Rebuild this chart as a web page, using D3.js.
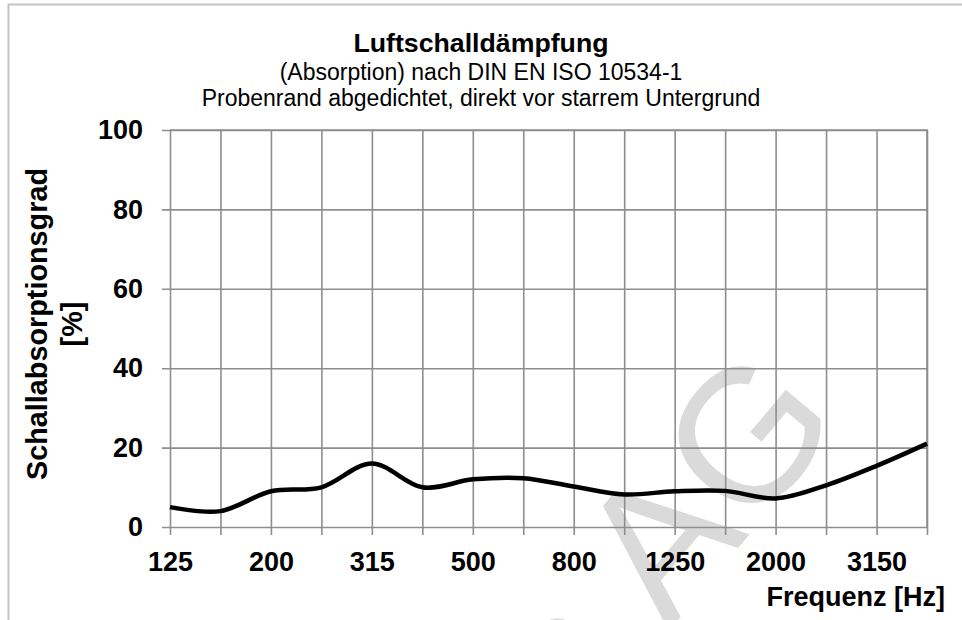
<!DOCTYPE html>
<html>
<head>
<meta charset="utf-8">
<script src="https://cdn.jsdelivr.net/npm/d3@7"></script>
<style>
	body { margin: 0; background: white; }
	text { font-family: "Liberation Sans", Arial, sans-serif; }
</style>
</head>
<body>
<div id="chart"></div>
<script>

// third-octave band centre frequencies (Hz)
const FREQUENCIES = ["125", "160", "200", "250", "315", "400", "500", "630",
	"800", "1000", "1250", "1600", "2000", "2500", "3150", "4000"];

// absorption coefficient in percent
const ABSORPTION = [5, 4, 9, 10, 16, 10, 12, 12.3, 10.2, 8.2, 9, 9.1, 7.2, 10.5, 15.4, 21];

// only every second band gets a label
const X_LABELS = ["125", "200", "315", "500", "800", "1250", "2000", "3150"];

const Y_TICKS = [0, 20, 40, 60, 80, 100];

const TITLE = "Luftschalldämpfung";
const SUBTITLE = ["(Absorption) nach DIN EN ISO 10534-1",
	"Probenrand abgedichtet, direkt vor starrem Untergrund"];
const Y_TITLE = ["Schallabsorptionsgrad", "[%]"];
const X_TITLE = "Frequenz [Hz]";

const W = 962, H = 620;
const margin = {top: 130, right: 35, bottom: 93, left: 170};
const width = W - margin.left - margin.right;
const height = H - margin.top - margin.bottom;

const GRID = "#8e8e8e";

function drawChart() {

	const svg = d3.select("#chart")
	.append("svg")
	.attr("width", W)
	.attr("height", H);

	// outer chart border (cut off right and bottom like the picture)
	svg.append("rect")
	.attr("x", 8.5)
	.attr("y", 4.5)
	.attr("width", W + 20)
	.attr("height", H + 20)
	.attr("fill", "white")
	.attr("stroke", "#c4c4c4")
	.attr("stroke-width", 2);

	// faint watermark behind the plot
	svg.append("text")
	.attr("transform", "translate(735, 552) rotate(-50)")
	.attr("font-size", 190)
	.attr("fill", "#dadada")
	.attr("text-anchor", "middle")
	.attr("dx", -40)
	.text("h AG");

	const g = svg.append("g")
	.attr("transform", `translate(${margin.left}, ${margin.top})`);

	const x = d3.scalePoint()
	.domain(FREQUENCIES)
	.range([0, width]);

	const y = d3.scaleLinear()
	.domain([0, 100])
	.range([height, 0]);

	// horizontal grid + y labels
	const yAxis = g.append("g")
	.attr("class", "y-axis")
	.call(d3.axisLeft(y)
		.tickValues(Y_TICKS)
		.tickSize(-width)
		.tickPadding(27));

	yAxis.selectAll(".tick line")
	.attr("x1", -8);

	// vertical grid + x labels
	const xAxis = g.append("g")
	.attr("class", "x-axis")
	.attr("transform", `translate(0, ${height})`)
	.call(d3.axisBottom(x)
		.tickSize(-height)
		.tickFormat(function(d) {
			return X_LABELS.includes(d) ? d : "";
		}));

	xAxis.selectAll(".tick line")
	.attr("y1", 8);

	xAxis.selectAll(".tick text")
	.attr("dy", null)
	.attr("y", 44);

	g.selectAll(".domain").remove();

	g.selectAll(".tick line")
	.attr("stroke", GRID)
	.attr("stroke-width", 1.6);

	g.selectAll(".tick text")
	.attr("font-family", "Liberation Sans, Arial, sans-serif")
	.attr("font-size", 27)
	.attr("font-weight", "bold")
	.attr("fill", "black");

	// plot frame on top and right
	g.append("path")
	.attr("d", `M0,0H${width}V${height}`)
	.attr("fill", "none")
	.attr("stroke", GRID)
	.attr("stroke-width", 1.6);

	// smoothed line like the spreadsheet "smooth line" option
	const line = d3.line()
	.x(function(d, i) { return x(FREQUENCIES[i]); })
	.y(function(d) { return y(d); })
	.curve(d3.curveCatmullRom.alpha(0));

	g.append("path")
	.datum(ABSORPTION)
	.attr("d", line)
	.attr("fill", "none")
	.attr("stroke", "black")
	.attr("stroke-width", 4.5)
	.attr("stroke-linejoin", "round");

	// titles
	svg.append("text")
	.attr("x", 481)
	.attr("y", 52)
	.attr("text-anchor", "middle")
	.attr("font-size", 26.7)
	.attr("font-weight", "bold")
	.text(TITLE);

	SUBTITLE.forEach(function(s, i) {
		svg.append("text")
		.attr("x", 481)
		.attr("y", 80 + i * 26)
		.attr("text-anchor", "middle")
		.attr("font-size", 23)
		.text(s);
	});

	Y_TITLE.forEach(function(s, i) {
		svg.append("text")
		.attr("transform", `translate(${47 + i * 35}, 324) rotate(-90)`)
		.attr("text-anchor", "middle")
		.attr("font-size", 28.8)
		.attr("font-weight", "bold")
		.text(s);
	});

	svg.append("text")
	.attr("x", 945)
	.attr("y", 606)
	.attr("text-anchor", "end")
	.attr("font-size", 27)
	.attr("font-weight", "bold")
	.text(X_TITLE);
}

drawChart();

</script>
</body>
</html>
